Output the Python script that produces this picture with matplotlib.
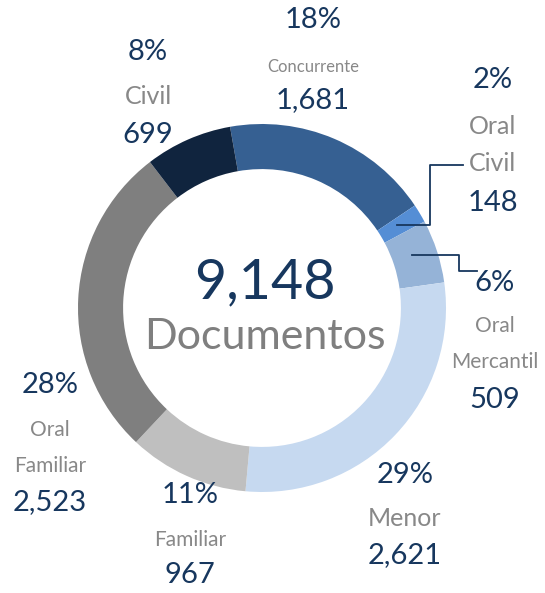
import matplotlib
matplotlib.use("Agg")
import matplotlib.pyplot as plt

# datos
categorias = ["Concurrente", "Oral Civil", "Oral Mercantil", "Menor",
              "Familiar", "Oral Familiar", "Civil"]
nombres = ["Concurrente", "Oral\nCivil", "Oral\nMercantil", "Menor",
           "Familiar", "Oral\nFamiliar", "Civil"]
valores = [1681, 148, 509, 2621, 967, 2523, 699]
colores = ["#366092", "#558ED5", "#95B3D7", "#C6D9F0",
           "#BFBFBF", "#7F7F7F", "#10243E"]
total = sum(valores)

# posiciones de las etiquetas en pixeles (x, y desde arriba)
pos_pct = [(313, 20), (493, 80), (495, 283), (405, 475),
           (190, 495), (50, 385), (148, 52)]
pos_nom = [(313, 67), (493, 145), (495, 344), (405, 518),
           (190, 540), (50, 448), (148, 97)]
pos_num = [(313, 100), (493, 203), (495, 400), (405, 555),
           (190, 575), (50, 502), (148, 135)]
tam_nom = [12, 18, 15, 18, 15, 15, 18]

W, H = 545, 593
azul = "#17375E"
gris = "#888888"
fuente = ["Lato", "DejaVu Sans"]


def py(y):
    return H - y


fig = plt.figure(figsize=(W / 100, H / 100), dpi=100)
ax = fig.add_axes([0, 0, 1, 1])

radio = 184
ax.pie(valores, colors=colores, startangle=100, counterclock=False,
       radius=radio, center=(262, py(308)),
       wedgeprops=dict(width=radio * 0.245, linewidth=0))
ax.set_xlim(0, W)
ax.set_ylim(0, H)
ax.set_aspect("equal")
ax.axis("off")

for i in range(len(valores)):
    pct = "{:.0f}%".format(valores[i] / total * 100)
    ax.text(pos_pct[i][0], py(pos_pct[i][1]), pct, ha="center", va="center",
            fontsize=21, color=azul, family=fuente)
    ax.text(pos_nom[i][0], py(pos_nom[i][1]), nombres[i], ha="center",
            va="center", fontsize=tam_nom[i], color=gris,
            linespacing=2.0 if tam_nom[i] < 16 else 1.75, family=fuente)
    ax.text(pos_num[i][0], py(pos_num[i][1]), "{:,}".format(valores[i]),
            ha="center", va="center", fontsize=21, color=azul,
            family=fuente)

# lineas guia
ax.plot([397, 430, 430, 463], [py(225), py(225), py(165), py(165)],
        color=azul, lw=1.3)
ax.plot([412, 459, 459, 477], [py(255), py(255), py(271), py(271)],
        color=azul, lw=1.3)

# texto central
ax.text(265, py(283), "{:,}".format(total), ha="center", va="center",
        fontsize=40, color=azul, family=fuente)
ax.text(265, py(337), "Documentos", ha="center", va="center",
        fontsize=31, color="#7F7F7F", family=fuente)

fig.savefig("out.png", dpi=100)
